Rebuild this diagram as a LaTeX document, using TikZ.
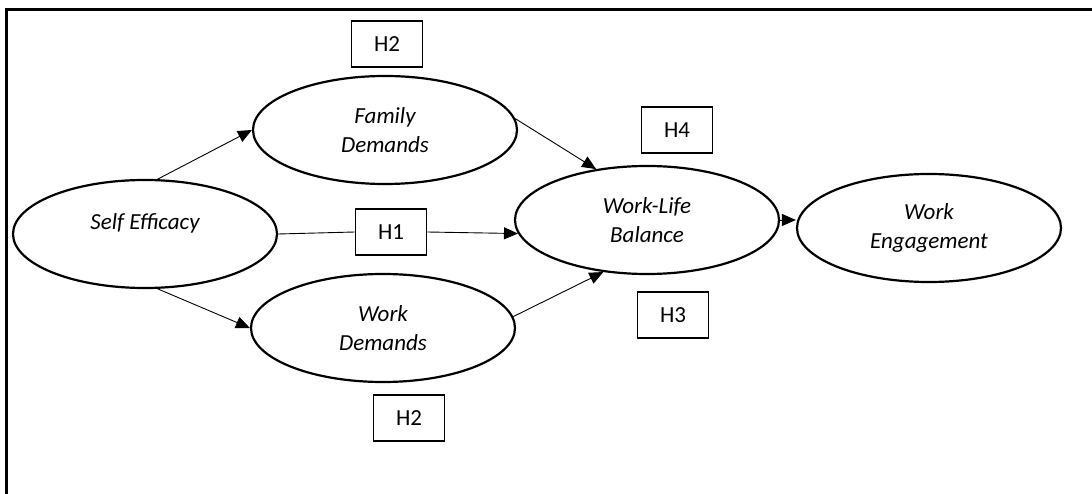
\documentclass[tikz,border=0pt]{standalone}
\usepackage{fontspec}
\setmainfont{Carlito}
\usetikzlibrary{shapes.geometric,arrows.meta}
\begin{document}
\begin{tikzpicture}[x=1pt,y=-1pt,
    latent/.style={draw,ellipse,line width=2.2pt,minimum width=264pt,minimum height=108pt,inner sep=0pt,align=center,font=\fontsize{23}{29}\selectfont\itshape},
    lbl/.style={inner sep=0pt,font=\fontsize{23}{29}\selectfont\itshape},
    hyp/.style={draw,rectangle,line width=1.6pt,minimum width=71pt,minimum height=46pt,inner sep=0pt,font=\fontsize{23}{26}\selectfont},
    link/.style={-{Triangle[length=14pt,width=12pt]},line width=0.9pt}]

    \useasboundingbox (0,0) rectangle (1092,494);

    %draw frame
    \draw[line width=3pt] (6,520) -- (6,10) -- (1110,10);

    %draw constructs
    \node[latent] (self) at (145,234) {};
    \node[lbl] (selftext) at ([yshift=11pt]self.center) {Self Efficacy};
    \node[latent] (family) at (385,130) {Family\\Demands};
    \node[latent] (work) at (383,328) {Work\\Demands};
    \node[latent] (balance) at (647,220) {Work-Life\\Balance};
    \node[latent] (engage) at (929,228) {Work\\Engagement};

    %draw hypothesis boxes
    \node[hyp] (h2top) at (387,44) {H2};
    \node[hyp] (h1) at (391,232) {H1};
    \node[hyp] (h2bottom) at (409,418) {H2};
    \node[hyp] (h4) at (677,130) {H4};
    \node[hyp] (h3) at (673,315) {H3};

    %draw paths
    \draw[link] (self.77) -- (family.west);
    \draw[link] (self.283) -- (work.west);
    \draw[line width=0.9pt] (self.east) -- (h1.west);
    \draw[link] (h1.east) -- (balance.186);
    \draw[link] (family.5) -- (balance.135);
    \draw[link] (work.5) -- (balance.230);
    \draw[link] (balance.east) -- (balance.east -| engage.west);

\end{tikzpicture}
\end{document}
